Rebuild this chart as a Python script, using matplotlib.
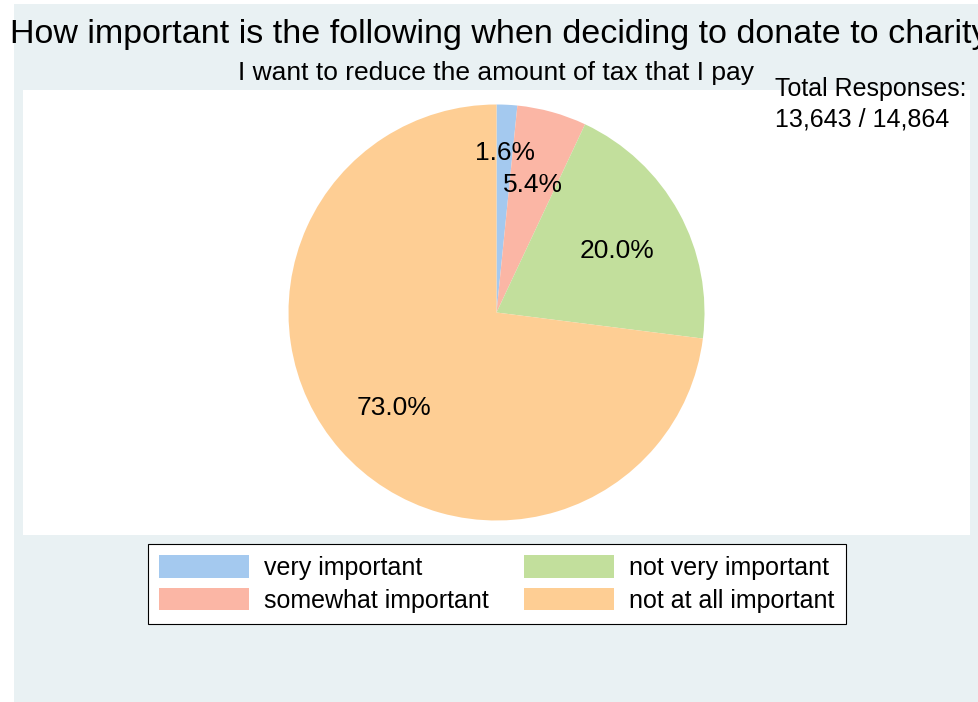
import numpy as np
import matplotlib.pyplot as plt
from matplotlib.patches import Rectangle

plt.rcParams['font.family'] = ['Liberation Sans', 'DejaVu Sans']

# data
categories = ['very important', 'somewhat important', 'not very important', 'not at all important']
shares = [1.6, 5.4, 20.0, 73.0]
colors = ['#A4C9EF', '#FBB6A5', '#C2DF9C', '#FECE94']
title = 'How important is the following when deciding to donate to charity?'
subtitle = 'I want to reduce the amount of tax that I pay'
note = 'Total Responses:\n13,643 / 14,864'

W, H = 979, 702
fig = plt.figure(figsize=(W / 100, H / 100), dpi=100, facecolor='white')

# light graph region background
fig.patches.append(Rectangle((14 / W, 0), 1 - 14 / W, 1 - 4 / H, transform=fig.transFigure,
                             facecolor='#E9F1F3', edgecolor='none', zorder=-5))

# plot region
x0, x1, y0, y1 = 23, 970, 90, 535
ax = fig.add_axes([x0 / W, 1 - y1 / H, (x1 - x0) / W, (y1 - y0) / H], zorder=1)

r = 208
wedges, texts, autotexts = ax.pie(shares, colors=colors, startangle=90, counterclock=False,
                                  autopct='%1.1f%%', pctdistance=0.66,
                                  textprops={'fontsize': 19, 'color': 'black'},
                                  wedgeprops={'linewidth': 0})
# push the tiny slice label further out so it does not sit on its neighbour
px, py = autotexts[0].get_position()
autotexts[0].set_position((px * 0.79 / 0.66, py * 0.79 / 0.66))
# labels sit a little lower in the original
for t in autotexts:
    px, py = t.get_position()
    t.set_position((px, py - 0.024))

ax.set_aspect('auto')
ax.set_xlim(-(x1 - x0) / 2 / r, (x1 - x0) / 2 / r)
ax.set_ylim(-(y1 - y0) / 2 / r, (y1 - y0) / 2 / r)
ax.axis('off')
ax.add_patch(Rectangle((0, 0), 1, 1, transform=ax.transAxes, facecolor='white',
                       edgecolor='none', zorder=-1))

fig.text(10 / W, 1 - 34 / H, title, fontsize=24.5, ha='left', va='center')
fig.text(496 / W, 1 - 73 / H, subtitle, fontsize=19, ha='center', va='center')
fig.text(775 / W, 1 - 104 / H, note, fontsize=18, ha='left', va='center', linespacing=1.35)

leg = fig.legend(wedges, categories, ncol=2, loc='center', bbox_to_anchor=(497 / W, 1 - 584 / H),
                 fontsize=18, frameon=True, fancybox=False, edgecolor='black',
                 facecolor='white', framealpha=1, handlelength=3.6, handleheight=1.0,
                 handletextpad=0.6, columnspacing=1.4, labelspacing=0.32,
                 borderpad=0.45)
leg.get_frame().set_linewidth(0.8)

fig.savefig('out.png', dpi=100, facecolor='white')
